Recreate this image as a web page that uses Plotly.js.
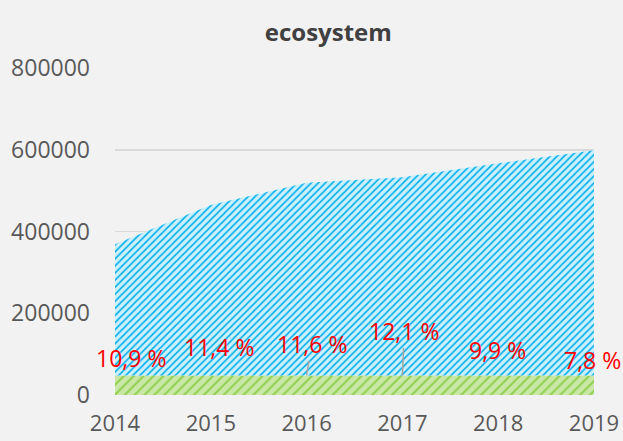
<!DOCTYPE html>
<html>
<head>
<meta charset="utf-8">
<script src="https://cdn.plot.ly/plotly-3.0.1.min.js"></script>
<style>html,body{margin:0;padding:0;background:#f2f2f2;}#chart{width:623px;height:441px;}</style>
</head>
<body>
<div id="chart"></div>
<script>
const years = [2014, 2015, 2016, 2017, 2018, 2019];
const totalValues = [369000, 465000, 519000, 533000, 567000, 599000];
const greenValues = [48000, 48000, 48000, 48000, 48000, 48000];
const percentLabels = ["10,9 %", "11,4 %", "11,6 %", "12,1 %", "9,9 %", "7,8 %"];
const yTicks = [0, 200000, 400000, 600000, 800000];

const blueValues = totalValues.map((t, i) => t - greenValues[i]);

const traces = [
  {
    x: years, y: greenValues, type: 'scatter', mode: 'none',
    stackgroup: 'one', fillcolor: '#c6e6a4',
    fillpattern: {shape: '/', bgcolor: '#c9e8a8', fgcolor: '#92d050', size: 7, solidity: 0.3},
    hoverinfo: 'skip'
  },
  {
    x: years, y: blueValues, type: 'scatter', mode: 'none',
    stackgroup: 'one', fillcolor: '#c4ecfb',
    fillpattern: {shape: '/', bgcolor: '#ccf0fd', fgcolor: '#00aeef', size: 5, solidity: 0.32},
    hoverinfo: 'skip'
  }
];

const offsets = [[16, -17], [8, -28], [5, -31], [2, -44], [-1, -25], [-2, -15]];
const leader = [false, false, true, true, false, false];

const annotations = years.map((yr, i) => ({
  x: yr, y: greenValues[i], xref: 'x', yref: 'y',
  text: percentLabels[i],
  showarrow: true, arrowhead: 0, arrowwidth: 1.5,
  arrowcolor: leader[i] ? '#a6a6a6' : 'rgba(0,0,0,0)',
  ax: offsets[i][0], ay: offsets[i][1],
  font: {family: 'Open Sans, sans-serif', size: 23, color: '#ff0000'},
  borderpad: 0
}));

const layout = {
  width: 623, height: 441,
  paper_bgcolor: '#f2f2f2', plot_bgcolor: '#f2f2f2',
  margin: {l: 115, r: 29, t: 68, b: 46},
  showlegend: false,
  title: {
    text: '<b>ecosystem</b>',
    font: {family: 'Open Sans, sans-serif', size: 24, color: '#404040'},
    x: 0.527, xanchor: 'center', y: 0.925, yanchor: 'middle'
  },
  xaxis: {
    range: [2014, 2019], tickvals: years, ticktext: years.map(String),
    showgrid: false, zeroline: false, showline: false, ticks: '',
    tickfont: {family: 'Open Sans, sans-serif', size: 22, color: '#595959'},
    ticklabelstandoff: 13
  },
  yaxis: {
    range: [0, 800000], tickvals: yTicks, ticktext: yTicks.map(String),
    showgrid: true, gridcolor: '#d9d9d9', gridwidth: 1.5,
    zeroline: false, showline: false, ticks: '',
    tickfont: {family: 'Open Sans, sans-serif', size: 23, color: '#595959'},
    ticklabelstandoff: 24
  },
  annotations: annotations
};

Plotly.newPlot('chart', traces, layout, {displayModeBar: false, staticPlot: true});
</script>
</body>
</html>
